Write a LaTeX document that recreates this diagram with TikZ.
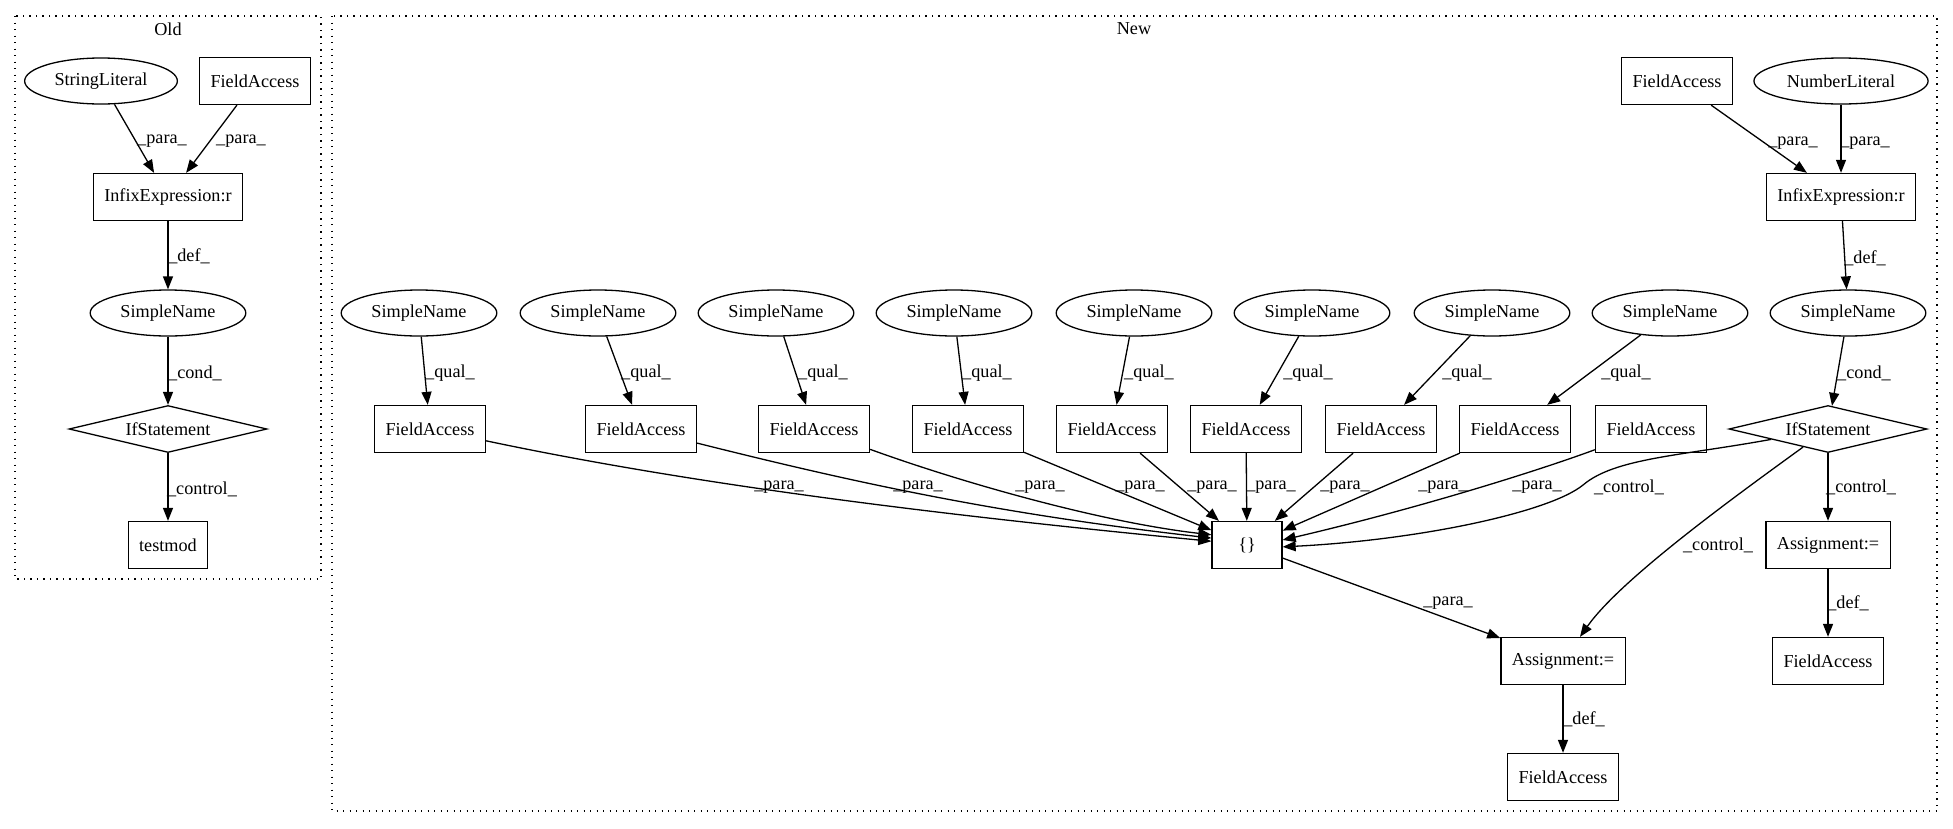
\documentclass[tikz,border=0pt]{standalone}
\usepackage{fontspec}
\setmainfont{Liberation Serif}
\usetikzlibrary{shapes.geometric,arrows.meta}

\tikzstyle{astbox} = [draw, rectangle, line width=1.3pt, minimum width=70pt, minimum height=47pt, inner xsep=11pt, inner ysep=0pt]
\tikzstyle{astoval} = [draw, ellipse, line width=1.3pt, minimum height=46pt, inner xsep=7.5pt, inner ysep=0pt]
\tikzstyle{astif} = [draw, diamond, line width=1.3pt, aspect=4, minimum width=198pt, minimum height=47pt, inner sep=0pt]
\tikzstyle{edge} = [draw, line width=1.3pt, -{Triangle[length=13pt,width=10pt]}]
\tikzstyle{elabel} = [inner sep=0pt]
\tikzstyle{cluster} = [draw, line width=1.3pt, dash pattern=on 1.3pt off 5.2pt]

\begin{document}
\begin{tikzpicture}[x=1pt, y=-1pt, font=\fontsize{18.2pt}{22pt}\selectfont]
    \useasboundingbox (0,0) rectangle (1953,828);

    % the two clusters
    \draw[cluster] (15,16) rectangle (321,579);
    \draw[cluster] (332,16) rectangle (1937,811);
    \node (oldtitle) at (168,29) {Old};
    \node (newtitle) at (1134,29) {New};

    % the old graph
    \node[astoval] (osl) at (101,81) {StringLiteral};
    \node[astbox] (ofa) at (255,81) {FieldAccess};
    \node[astbox] (oinf) at (168,197) {InfixExpression:r};
    \node[astoval] (osn) at (168,313) {SimpleName};
    \node[astif] (oif) at (168,429) {IfStatement};
    \node[astbox] (otm) at (168,545) {testmod};

    \foreach \source/\sink in {osl/oinf, ofa/oinf, oinf/osn, osn/oif, oif/otm} {
      \path[edge] (\source) -- (\sink);
    }

    % the new graph, right column
    \node[astbox] (nfa) at (1677,81) {FieldAccess};
    \node[astoval] (nnl) at (1841,81) {NumberLiteral};
    \node[astbox] (ninf) at (1841,197) {InfixExpression:r};
    \node[astoval] (nsn) at (1848,313) {SimpleName};
    \node[astif] (nif) at (1828,429) {IfStatement};
    \node[astbox] (brace) at (1247,545) {\{\}};
    \node[astbox] (asr) at (1828,545) {Assignment:=};
    \node[astbox] (asm) at (1563,661) {Assignment:=};
    \node[astbox] (far) at (1828,661) {FieldAccess};
    \node[astbox] (fab) at (1563,777) {FieldAccess};

    % the qualified names
    \foreach \x/\name in {419/q1, 598/q2, 776/q3, 954/q4, 1134/q5, 1312/q6, 1492/q7, 1670/q8} {
      \node[astoval] (\name) at (\x,313) {SimpleName};
    }
    \foreach \x/\name in {430/f1, 641/f2, 814/f3, 968/f4, 1112/f5, 1246/f6, 1381/f7, 1515/f8, 1651/f9} {
      \node[astbox] (\name) at (\x,429) {FieldAccess};
    }

    % the straight connections
    \foreach \source/\sink in {nfa/ninf, nnl/ninf, ninf/nsn, nsn/nif, nif/asr, asr/far, asm/fab, brace/asm,
        q1/f1, q2/f2, q3/f3, q4/f4, q5/f5, q6/f6, q7/f7, q8/f8, f4/brace, f5/brace, f6/brace, f7/brace} {
      \path[edge] (\source) -- (\sink);
    }
    \path[edge] (f8) -- (brace.22);

    % the bent ones
    \path[edge] (f1) .. controls (700,486) and (950,516) .. (brace.174);
    \path[edge] (f2) .. controls (860,484) and (1000,514) .. (brace.169);
    \path[edge] (f3) .. controls (960,482) and (1100,522) .. (brace.164);
    \path[edge] (f9) .. controls (1540,470) and (1420,508) .. (brace.8);
    \path[edge] (nif) .. controls (1680,456) and (1615,458) .. (1583,485)
                      .. controls (1550,512) and (1420,540) .. (brace.357);
    \path[edge] (nif) .. controls (1730,500) and (1620,580) .. (asm);

    % the labels of the connections
    \foreach \pos/\txt [count=\i] in {{(162,141)/para}, {(241,141)/para}, {(189,256)/def}, {(195,373)/cond}, {(202,489)/control},
        {(1793,143)/para}, {(1865,143)/para}, {(1865,258)/def}, {(1864,373)/cond},
        {(450,373)/qual}, {(646,373)/qual}, {(823,373)/qual}, {(987,373)/qual},
        {(1149,373)/qual}, {(1308,373)/qual}, {(1467,373)/qual}, {(1626,373)/qual},
        {(779,487)/para}, {(918,487)/para}, {(1040,487)/para}, {(1140,487)/para}, {(1212,487)/para},
        {(1271,487)/para}, {(1345,487)/para}, {(1443,487)/para}, {(1537,487)/para},
        {(1629,487)/control}, {(1861,487)/control}, {(1718,545)/control},
        {(1448,603)/para}, {(1848,603)/def}, {(1584,719)/def}} {
      \node[elabel] (lbl\i) at \pos {\_\txt\_};
    }
\end{tikzpicture}
\end{document}
